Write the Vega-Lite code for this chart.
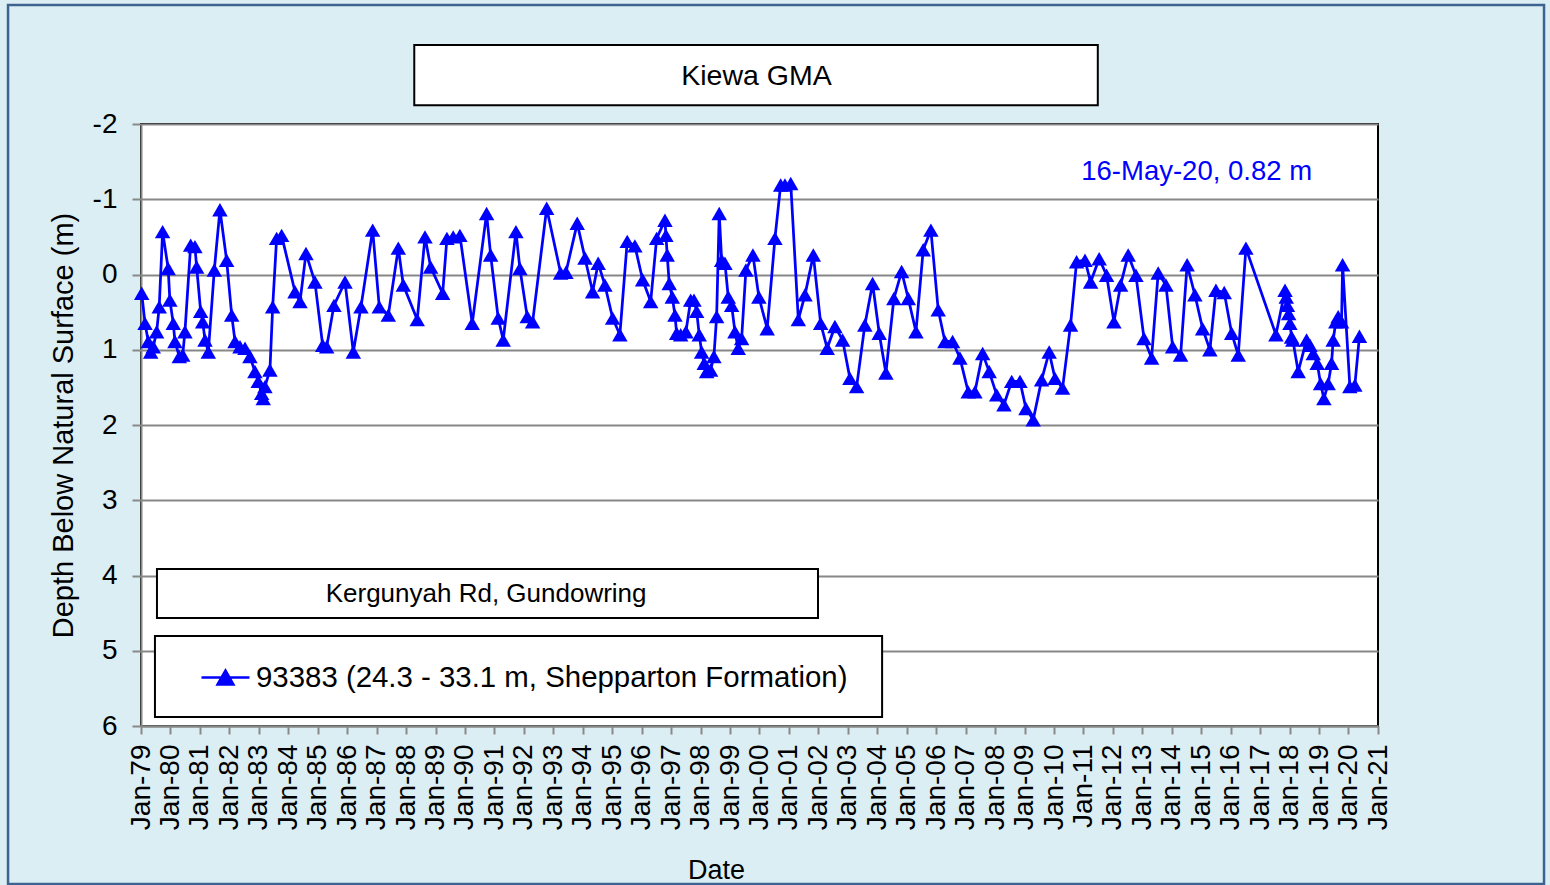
{
  "$schema": "https://vega.github.io/schema/vega-lite/v6.json",
  "width": 1237,
  "height": 602,
  "autosize": {"type": "none"},
  "padding": {"left": 141, "top": 124, "right": 172, "bottom": 159},
  "background": "#dbeef4",
  "config": {
    "view": {"fill": "white", "stroke": "black", "strokeWidth": 2},
    "font": "Liberation Sans"
  },
  "datasets": {
    "levels": [
      {"date": "1979-01-10", "depth": 0.25},
      {"date": "1979-02-20", "depth": 0.65},
      {"date": "1979-04-01", "depth": 0.89},
      {"date": "1979-05-01", "depth": 1.03},
      {"date": "1979-06-02", "depth": 0.96},
      {"date": "1979-07-14", "depth": 0.76},
      {"date": "1979-08-15", "depth": 0.43},
      {"date": "1979-09-26", "depth": -0.57},
      {"date": "1979-12-04", "depth": -0.08},
      {"date": "1979-12-25", "depth": 0.34},
      {"date": "1980-02-05", "depth": 0.65},
      {"date": "1980-02-26", "depth": 0.89},
      {"date": "1980-04-20", "depth": 1.09},
      {"date": "1980-06-01", "depth": 1.07},
      {"date": "1980-06-29", "depth": 0.76},
      {"date": "1980-09-08", "depth": -0.39},
      {"date": "1980-10-31", "depth": -0.37},
      {"date": "1980-11-21", "depth": -0.10},
      {"date": "1981-01-10", "depth": 0.49},
      {"date": "1981-02-04", "depth": 0.63},
      {"date": "1981-03-05", "depth": 0.87},
      {"date": "1981-04-15", "depth": 1.03},
      {"date": "1981-06-28", "depth": -0.06},
      {"date": "1981-09-06", "depth": -0.86},
      {"date": "1981-11-28", "depth": -0.19},
      {"date": "1982-01-30", "depth": 0.54},
      {"date": "1982-03-12", "depth": 0.89},
      {"date": "1982-05-13", "depth": 0.96},
      {"date": "1982-07-14", "depth": 0.98},
      {"date": "1982-09-13", "depth": 1.09},
      {"date": "1982-11-14", "depth": 1.29},
      {"date": "1982-12-25", "depth": 1.42},
      {"date": "1983-02-05", "depth": 1.58},
      {"date": "1983-02-25", "depth": 1.65},
      {"date": "1983-03-18", "depth": 1.49},
      {"date": "1983-05-19", "depth": 1.27},
      {"date": "1983-06-22", "depth": 0.43},
      {"date": "1983-08-10", "depth": -0.48},
      {"date": "1983-10-11", "depth": -0.52},
      {"date": "1984-03-25", "depth": 0.23},
      {"date": "1984-05-26", "depth": 0.36},
      {"date": "1984-08-08", "depth": -0.28},
      {"date": "1984-11-27", "depth": 0.10},
      {"date": "1985-03-03", "depth": 0.94},
      {"date": "1985-04-22", "depth": 0.96},
      {"date": "1985-07-21", "depth": 0.41},
      {"date": "1985-12-05", "depth": 0.10},
      {"date": "1986-03-18", "depth": 1.03},
      {"date": "1986-06-21", "depth": 0.43},
      {"date": "1986-11-13", "depth": -0.59},
      {"date": "1987-02-03", "depth": 0.43},
      {"date": "1987-05-26", "depth": 0.54},
      {"date": "1987-09-27", "depth": -0.35},
      {"date": "1987-11-28", "depth": 0.14},
      {"date": "1988-05-19", "depth": 0.60},
      {"date": "1988-08-23", "depth": -0.50},
      {"date": "1988-11-01", "depth": -0.10},
      {"date": "1989-03-30", "depth": 0.25},
      {"date": "1989-05-22", "depth": -0.48},
      {"date": "1989-08-08", "depth": -0.50},
      {"date": "1989-10-30", "depth": -0.52},
      {"date": "1990-04-01", "depth": 0.65},
      {"date": "1990-09-26", "depth": -0.81},
      {"date": "1990-11-15", "depth": -0.26},
      {"date": "1991-02-17", "depth": 0.58},
      {"date": "1991-04-20", "depth": 0.87},
      {"date": "1991-09-25", "depth": -0.57},
      {"date": "1991-11-13", "depth": -0.08},
      {"date": "1992-02-12", "depth": 0.56},
      {"date": "1992-04-19", "depth": 0.63},
      {"date": "1992-10-10", "depth": -0.88},
      {"date": "1993-04-01", "depth": -0.02},
      {"date": "1993-06-06", "depth": -0.03},
      {"date": "1993-10-24", "depth": -0.68},
      {"date": "1994-01-28", "depth": -0.22},
      {"date": "1994-05-03", "depth": 0.23},
      {"date": "1994-07-11", "depth": -0.15},
      {"date": "1994-10-02", "depth": 0.14},
      {"date": "1995-01-06", "depth": 0.58},
      {"date": "1995-04-06", "depth": 0.80},
      {"date": "1995-07-06", "depth": -0.44},
      {"date": "1995-10-09", "depth": -0.38},
      {"date": "1996-01-13", "depth": 0.07},
      {"date": "1996-04-22", "depth": 0.36},
      {"date": "1996-07-05", "depth": -0.48},
      {"date": "1996-10-16", "depth": -0.72},
      {"date": "1996-10-28", "depth": -0.52},
      {"date": "1996-11-13", "depth": -0.26},
      {"date": "1996-12-08", "depth": 0.12},
      {"date": "1997-01-15", "depth": 0.30},
      {"date": "1997-02-17", "depth": 0.54},
      {"date": "1997-03-10", "depth": 0.78},
      {"date": "1997-04-29", "depth": 0.80},
      {"date": "1997-07-03", "depth": 0.76},
      {"date": "1997-08-31", "depth": 0.34},
      {"date": "1997-10-11", "depth": 0.34},
      {"date": "1997-11-13", "depth": 0.49},
      {"date": "1997-12-15", "depth": 0.80},
      {"date": "1998-01-14", "depth": 1.03},
      {"date": "1998-02-15", "depth": 1.18},
      {"date": "1998-03-17", "depth": 1.29},
      {"date": "1998-05-05", "depth": 1.27},
      {"date": "1998-06-15", "depth": 1.09},
      {"date": "1998-07-19", "depth": 0.56},
      {"date": "1998-08-20", "depth": -0.81},
      {"date": "1998-09-19", "depth": -0.19},
      {"date": "1998-10-30", "depth": -0.15},
      {"date": "1998-12-10", "depth": 0.30},
      {"date": "1999-01-21", "depth": 0.41},
      {"date": "1999-03-03", "depth": 0.76},
      {"date": "1999-04-13", "depth": 0.98},
      {"date": "1999-05-25", "depth": 0.85},
      {"date": "1999-07-17", "depth": -0.06},
      {"date": "1999-10-12", "depth": -0.26},
      {"date": "1999-12-25", "depth": 0.30},
      {"date": "2000-04-06", "depth": 0.72},
      {"date": "2000-07-11", "depth": -0.48},
      {"date": "2000-09-20", "depth": -1.19},
      {"date": "2000-11-12", "depth": -1.19},
      {"date": "2001-01-23", "depth": -1.21},
      {"date": "2001-04-27", "depth": 0.60},
      {"date": "2001-07-19", "depth": 0.27},
      {"date": "2001-10-30", "depth": -0.26},
      {"date": "2002-01-29", "depth": 0.65},
      {"date": "2002-04-20", "depth": 0.98},
      {"date": "2002-07-25", "depth": 0.69},
      {"date": "2002-10-28", "depth": 0.87},
      {"date": "2003-01-27", "depth": 1.38},
      {"date": "2003-04-20", "depth": 1.49},
      {"date": "2003-07-31", "depth": 0.67},
      {"date": "2003-11-04", "depth": 0.12},
      {"date": "2004-01-25", "depth": 0.78},
      {"date": "2004-04-17", "depth": 1.31},
      {"date": "2004-07-25", "depth": 0.32},
      {"date": "2004-10-29", "depth": -0.04},
      {"date": "2005-01-20", "depth": 0.32},
      {"date": "2005-04-25", "depth": 0.76},
      {"date": "2005-07-24", "depth": -0.33},
      {"date": "2005-10-27", "depth": -0.59},
      {"date": "2006-01-26", "depth": 0.47},
      {"date": "2006-04-19", "depth": 0.89},
      {"date": "2006-07-23", "depth": 0.89},
      {"date": "2006-10-22", "depth": 1.11},
      {"date": "2007-02-02", "depth": 1.56},
      {"date": "2007-04-26", "depth": 1.56},
      {"date": "2007-07-31", "depth": 1.05},
      {"date": "2007-10-20", "depth": 1.29},
      {"date": "2008-01-21", "depth": 1.60},
      {"date": "2008-04-20", "depth": 1.73},
      {"date": "2008-07-25", "depth": 1.42},
      {"date": "2008-11-05", "depth": 1.42},
      {"date": "2009-01-18", "depth": 1.78},
      {"date": "2009-04-18", "depth": 1.93},
      {"date": "2009-07-31", "depth": 1.40},
      {"date": "2009-11-02", "depth": 1.03},
      {"date": "2010-01-13", "depth": 1.38},
      {"date": "2010-04-17", "depth": 1.51},
      {"date": "2010-07-25", "depth": 0.67},
      {"date": "2010-10-08", "depth": -0.17},
      {"date": "2011-01-20", "depth": -0.19},
      {"date": "2011-03-31", "depth": 0.10},
      {"date": "2011-07-15", "depth": -0.21},
      {"date": "2011-10-15", "depth": 0.01},
      {"date": "2012-01-14", "depth": 0.63},
      {"date": "2012-04-06", "depth": 0.14},
      {"date": "2012-07-09", "depth": -0.26},
      {"date": "2012-10-13", "depth": 0.01},
      {"date": "2013-01-21", "depth": 0.85},
      {"date": "2013-04-25", "depth": 1.11},
      {"date": "2013-07-16", "depth": -0.02},
      {"date": "2013-10-20", "depth": 0.14},
      {"date": "2014-01-11", "depth": 0.96},
      {"date": "2014-04-20", "depth": 1.07},
      {"date": "2014-07-10", "depth": -0.13},
      {"date": "2014-10-14", "depth": 0.27},
      {"date": "2015-01-18", "depth": 0.72},
      {"date": "2015-04-18", "depth": 1.00},
      {"date": "2015-07-02", "depth": 0.21},
      {"date": "2015-10-13", "depth": 0.24},
      {"date": "2016-01-13", "depth": 0.78},
      {"date": "2016-04-04", "depth": 1.07},
      {"date": "2016-07-08", "depth": -0.35},
      {"date": "2017-07-15", "depth": 0.80},
      {"date": "2017-11-05", "depth": 0.21},
      {"date": "2017-11-20", "depth": 0.30},
      {"date": "2017-12-05", "depth": 0.41},
      {"date": "2017-12-20", "depth": 0.52},
      {"date": "2018-01-05", "depth": 0.65},
      {"date": "2018-01-25", "depth": 0.83},
      {"date": "2018-02-10", "depth": 0.87},
      {"date": "2018-04-17", "depth": 1.29},
      {"date": "2018-07-30", "depth": 0.87},
      {"date": "2018-09-10", "depth": 0.94},
      {"date": "2018-10-21", "depth": 1.05},
      {"date": "2018-12-09", "depth": 1.18},
      {"date": "2019-01-20", "depth": 1.45},
      {"date": "2019-03-02", "depth": 1.65},
      {"date": "2019-04-24", "depth": 1.45},
      {"date": "2019-06-05", "depth": 1.18},
      {"date": "2019-06-25", "depth": 0.87},
      {"date": "2019-07-28", "depth": 0.63},
      {"date": "2019-08-26", "depth": 0.56},
      {"date": "2019-10-07", "depth": 0.63},
      {"date": "2019-10-20", "depth": -0.13},
      {"date": "2020-01-18", "depth": 1.49},
      {"date": "2020-03-20", "depth": 1.47},
      {"date": "2020-05-16", "depth": 0.82}
    ]
  },
  "layer": [
    {
      "data": {"values": [{}]},
      "mark": {"type": "rect", "filled": false, "stroke": "#3d6391", "strokeWidth": 2.5},
      "encoding": {
        "x": {"datum": {"year": 1974, "month": 6, "date": 27, "utc": true}, "type": "temporal", "scale": {"type": "utc", "domain": [{"year": 1979, "month": 1, "date": 1, "utc": true}, {"year": 2021, "month": 1, "date": 1, "utc": true}]}},
        "x2": {"datum": {"year": 2026, "month": 8, "date": 22, "utc": true}},
        "y": {"datum": -3.58, "type": "quantitative", "scale": {"domain": [-2, 6], "reverse": true, "nice": false, "zero": false}},
        "y2": {"datum": 8.1}
      }
    },
    {
      "data": {"values": [{}]},
      "mark": {"type": "rect", "fill": "white", "stroke": "black", "strokeWidth": 2},
      "encoding": {
        "x": {"datum": {"year": 1988, "month": 4, "date": 12, "utc": true}, "type": "temporal"},
        "x2": {"datum": {"year": 2011, "month": 6, "date": 28, "utc": true}},
        "y": {"datum": -3.05, "type": "quantitative"},
        "y2": {"datum": -2.25}
      }
    },
    {
      "data": {"values": [{}]},
      "mark": {"type": "text", "text": "Kiewa GMA", "fontSize": 28.5, "font": "Liberation Sans", "color": "black", "align": "center", "baseline": "middle"},
      "encoding": {
        "x": {"datum": {"year": 1999, "month": 11, "date": 25, "utc": true}, "type": "temporal"},
        "y": {"datum": -2.64, "type": "quantitative"}
      }
    },
    {
      "data": {"values": [{}]},
      "mark": {"type": "rect", "fill": "white", "stroke": "black", "strokeWidth": 2},
      "encoding": {
        "x": {"datum": {"year": 1979, "month": 7, "date": 18, "utc": true}, "type": "temporal"},
        "x2": {"datum": {"year": 2001, "month": 12, "date": 27, "utc": true}},
        "y": {"datum": 3.914, "type": "quantitative"},
        "y2": {"datum": 4.565}
      }
    },
    {
      "data": {"values": [{}]},
      "mark": {"type": "text", "text": "Kergunyah Rd, Gundowring", "fontSize": 26, "font": "Liberation Sans", "color": "black", "align": "center", "baseline": "middle"},
      "encoding": {
        "x": {"datum": {"year": 1990, "month": 9, "date": 20, "utc": true}, "type": "temporal"},
        "y": {"datum": 4.25, "type": "quantitative"}
      }
    },
    {
      "data": {"values": [{}]},
      "mark": {"type": "rect", "fill": "white", "stroke": "black", "strokeWidth": 2},
      "encoding": {
        "x": {"datum": {"year": 1979, "month": 6, "date": 23, "utc": true}, "type": "temporal"},
        "x2": {"datum": {"year": 2004, "month": 3, "date": 1, "utc": true}},
        "y": {"datum": 4.804, "type": "quantitative"},
        "y2": {"datum": 5.88}
      }
    },
    {
      "data": {"values": [{}]},
      "mark": {"type": "text", "text": "16-May-20, 0.82 m", "fontSize": 27.5, "font": "Liberation Sans", "color": "#0000ff", "align": "center", "baseline": "middle"},
      "encoding": {
        "x": {"datum": {"year": 2014, "month": 11, "date": 5, "utc": true}, "type": "temporal"},
        "y": {"datum": -1.36, "type": "quantitative"}
      }
    },
    {
      "data": {"name": "levels"},
      "mark": {"type": "line", "color": "#0000ff", "strokeWidth": 2.75},
      "encoding": {
        "x": {
          "field": "date", "type": "temporal",
          "scale": {"type": "utc", "domain": [{"year": 1979, "month": 1, "date": 1, "utc": true}, {"year": 2021, "month": 1, "date": 1, "utc": true}]},
          "axis": {
            "title": "Date", "format": "%b-%y", "tickCount": {"interval": "year", "step": 1},
            "labelAngle": 270, "labelFontSize": 28, "labelFont": "Liberation Sans", "labelColor": "black",
            "labelPadding": 10, "labelOverlap": false, "labelFlush": false, "labelBound": false,
            "tickSize": 8, "tickColor": "#888888", "tickWidth": 2,
            "domainColor": "#888888", "domainWidth": 2, "grid": false,
            "titleFontSize": 27, "titleFont": "Liberation Sans", "titleFontWeight": "normal", "titleColor": "black",
            "titleX": 575, "titleY": 131, "titleBaseline": "top", "titleAnchor": "middle", "titleAlign": "center"
          }
        },
        "y": {
          "field": "depth", "type": "quantitative",
          "scale": {"domain": [-2, 6], "reverse": true, "nice": false, "zero": false},
          "axis": {
            "title": "Depth Below Natural Surface (m)", "values": [-2, -1, 0, 1, 2, 3, 4, 5, 6],
            "labelExpr": "'' + datum.value",
            "labelFontSize": 28, "labelFont": "Liberation Sans", "labelColor": "black", "labelPadding": 15,
            "tickSize": 9, "tickColor": "#888888", "tickWidth": 2,
            "domainColor": "#888888", "domainWidth": 2,
            "grid": true, "gridColor": "#878787", "gridWidth": 2,
            "titleFontSize": 29, "titleFont": "Liberation Sans", "titleFontWeight": "normal", "titleColor": "black",
            "titlePadding": 14
          }
        }
      }
    },
    {
      "data": {"name": "levels"},
      "mark": {"type": "point", "shape": "triangle-up", "filled": true, "size": 240, "opacity": 1},
      "encoding": {
        "x": {"field": "date", "type": "temporal"},
        "y": {"field": "depth", "type": "quantitative"},
        "color": {
          "datum": "93383 (24.3 - 33.1 m, Shepparton Formation)",
          "type": "nominal",
          "scale": {"range": ["#0000ff"]},
          "legend": {
            "orient": "none", "legendX": 14, "legendY": 528, "title": null,
            "padding": 0,
            "symbolType": "M-1,0L1,0M-0.33,0.29L0,-0.29L0.33,0.29Z", "symbolSize": 2304,
            "symbolStrokeWidth": 2.5, "symbolStrokeColor": "#0000ff", "symbolFillColor": "#0000ff",
            "symbolOffset": 45, "labelOffset": 5,
            "labelFontSize": 29.4, "labelFont": "Liberation Sans", "labelColor": "black", "labelLimit": 1000
          }
        }
      }
    }
  ]
}
